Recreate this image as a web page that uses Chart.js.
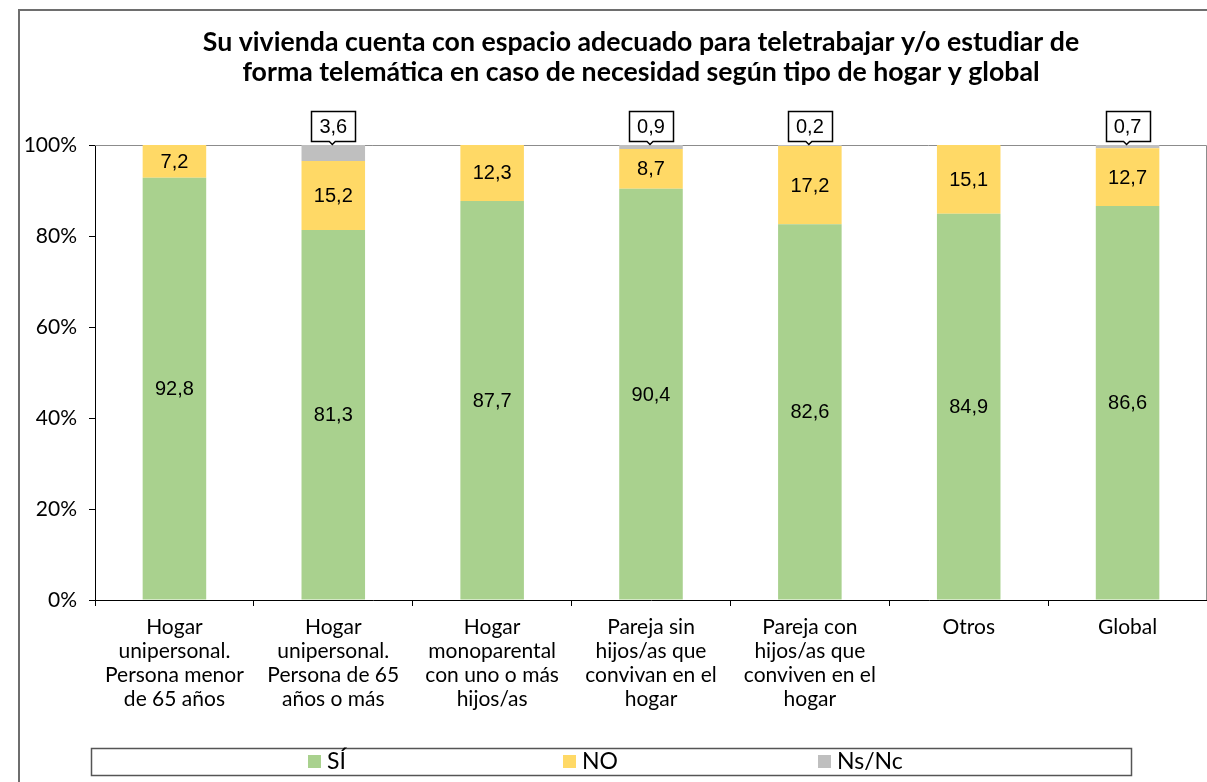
<!DOCTYPE html>
<html>
<head>
<meta charset="utf-8">
<script src="https://cdn.jsdelivr.net/npm/chart.js@4/dist/chart.umd.min.js"></script>
<style>
  html, body { margin: 0; padding: 0; background: #fff; overflow: hidden; }
  #wrap { width: 1207px; height: 782px; overflow: hidden; }
</style>
</head>
<body>
<div id="wrap"><canvas id="chart" width="1282" height="782"></canvas></div>
<script>
const titulo = ['Su vivienda cuenta con espacio adecuado para teletrabajar y/o estudiar de',
                'forma telemática en caso de necesidad según tipo de hogar y global'];
const hogares = [
    ['Hogar', 'unipersonal.', 'Persona menor', 'de 65 años'],
    ['Hogar', 'unipersonal.', 'Persona de 65', 'años o más'],
    ['Hogar', 'monoparental', 'con uno o más', 'hijos/as'],
    ['Pareja sin', 'hijos/as que', 'convivan en el', 'hogar'],
    ['Pareja con', 'hijos/as que', 'conviven en el', 'hogar'],
    'Otros',
    'Global'
];
const si   = [92.8, 81.3, 87.7, 90.4, 82.6, 84.9, 86.6];
const no   = [7.2, 15.2, 12.3, 8.7, 17.2, 15.1, 12.7];
const nsnc = [0, 3.6, 0, 0.9, 0.2, 0, 0.7];
const yTicks = [0, 20, 40, 60, 80, 100];

const fmt = v => v.toFixed(1).replace('.', ',');

// marco exterior, titulo y borde del area de grafico
const marco = {
    id: 'marco',
    beforeDatasetsDraw(chart) {
        const ctx = chart.ctx, a = chart.chartArea;
        ctx.save();
        ctx.strokeStyle = '#6e6e6e';
        ctx.lineWidth = 2;
        ctx.beginPath();
        ctx.moveTo(19, 790);
        ctx.lineTo(19, 10);
        ctx.lineTo(1300, 10);
        ctx.stroke();

        ctx.strokeStyle = '#8c8c8c';
        ctx.lineWidth = 1;
        ctx.beginPath();
        ctx.moveTo(a.left, a.top + 0.5);
        ctx.lineTo(a.right - 0.5, a.top + 0.5);
        ctx.lineTo(a.right - 0.5, a.bottom);
        ctx.stroke();

        ctx.fillStyle = '#000';
        ctx.font = 'bold 26.7px Lato';
        ctx.textAlign = 'center';
        ctx.textBaseline = 'middle';
        ctx.fillText(titulo[0], 641, 42);
        ctx.fillText(titulo[1], 641, 72);
        ctx.restore();
    }
};

// etiquetas de valores
const etiquetas = {
    id: 'etiquetas',
    afterDatasetsDraw(chart) {
        const ctx = chart.ctx;
        ctx.save();
        ctx.font = '20px "Liberation Sans"';
        ctx.textAlign = 'center';
        ctx.textBaseline = 'middle';
        chart.data.datasets.forEach((ds, i) => {
            chart.getDatasetMeta(i).data.forEach((bar, j) => {
                const v = ds.data[j];
                if (!v) return;
                const txt = fmt(v);
                if (i < 2) {
                    ctx.fillStyle = '#000';
                    ctx.fillText(txt, bar.x, (bar.y + bar.base) / 2 + 1);
                } else {
                    const w = 44, h = 30;
                    const x0 = Math.round(bar.x - w / 2) + 0.5;
                    const y1 = Math.round(bar.y) - 3.5;
                    const y0 = y1 - h;
                    ctx.beginPath();
                    ctx.moveTo(x0, y0);
                    ctx.lineTo(x0 + w, y0);
                    ctx.lineTo(x0 + w, y1);
                    ctx.lineTo(bar.x + 2, y1);
                    ctx.lineTo(bar.x - 1, y1 + 3);
                    ctx.lineTo(bar.x - 4, y1);
                    ctx.lineTo(x0, y1);
                    ctx.closePath();
                    ctx.fillStyle = '#fff';
                    ctx.fill();
                    ctx.strokeStyle = '#000';
                    ctx.lineWidth = 1.5;
                    ctx.stroke();
                    ctx.fillStyle = '#000';
                    ctx.fillText(txt, bar.x, (y0 + y1) / 2 + 1);
                }
            });
        });
        ctx.restore();
    }
};

// leyenda en recuadro
const leyenda = {
    id: 'leyenda',
    afterDraw(chart) {
        const ctx = chart.ctx;
        ctx.save();
        ctx.strokeStyle = '#555';
        ctx.lineWidth = 1.5;
        ctx.strokeRect(91.5, 748.5, 1040, 27);
        ctx.font = '23px Lato';
        ctx.textBaseline = 'middle';
        ctx.textAlign = 'left';
        chart.data.datasets.forEach((ds, i) => {
            const x = 308 + i * 255;
            ctx.fillStyle = ds.backgroundColor;
            ctx.fillRect(x, 755, 13, 13);
            ctx.fillStyle = '#000';
            ctx.fillText(ds.label, x + 19, 762);
        });
        ctx.restore();
    }
};

new Chart(document.getElementById('chart'), {
    type: 'bar',
    data: {
        labels: hogares,
        datasets: [
            { label: 'SÍ', data: si, backgroundColor: '#A9D18E' },
            { label: 'NO', data: no, backgroundColor: '#FFD966' },
            { label: 'Ns/Nc', data: nsnc, backgroundColor: '#BFBFBF' }
        ]
    },
    options: {
        responsive: false,
        animation: false,
        layout: { padding: { left: 0, right: 75, top: 145, bottom: 0 } },
        datasets: { bar: { categoryPercentage: 1, barPercentage: 0.4 } },
        plugins: {
            legend: { display: false },
            title: { display: false },
            tooltip: { enabled: false }
        },
        scales: {
            x: {
                stacked: true,
                afterFit: s => { s.height = 182; },
                border: { color: '#000', width: 1 },
                grid: { offset: true, drawOnChartArea: false, tickLength: 6, color: '#000' },
                ticks: { color: '#000', font: { family: 'Lato', size: 21, lineHeight: 1.15 }, padding: 9, maxRotation: 0, autoSkip: false }
            },
            y: {
                stacked: true,
                min: 0,
                max: 100,
                afterFit: s => { s.width = 95; },
                afterBuildTicks: s => { s.ticks = yTicks.map(v => ({ value: v })); },
                border: { color: '#000', width: 1 },
                grid: { drawOnChartArea: false, tickLength: 6, color: '#000' },
                ticks: { color: '#000', font: { family: 'Lato', size: 21 }, padding: 12, callback: v => v + '%' }
            }
        }
    },
    plugins: [marco, etiquetas, leyenda]
});
</script>
</body>
</html>
